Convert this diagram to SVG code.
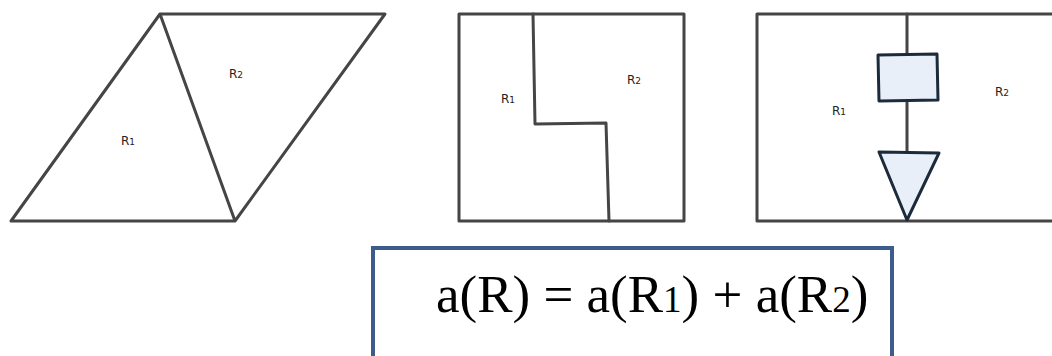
<svg xmlns="http://www.w3.org/2000/svg" width="1052" height="356" viewBox="0 0 1052 356">
<style>
.ln{fill:none;stroke:#454545;stroke-width:3;stroke-linejoin:round;stroke-linecap:round}
.sh{fill:#e8eff9;stroke:#1c2b3b;stroke-width:3;stroke-linejoin:round}
.lb{font-family:"DejaVu Sans","Liberation Sans",sans-serif;font-size:12px;fill:#222}
.sb{font-size:9px}
.eq{font-family:"Liberation Serif","Times New Roman",serif;font-size:53px;fill:#000}
.es{font-size:37px}
</style>
<rect width="1052" height="356" fill="#fff"/>
<g id="fig1">
<path class="ln" d="M160,14 L385,14 L235,221 L11,221 Z M160,14 L235,221"/>
<text class="lb" x="229" y="78">R<tspan class="sb">2</tspan></text>
<text class="lb" x="121" y="145">R<tspan class="sb">1</tspan></text>
</g>
<g id="fig2">
<rect class="ln" x="459" y="14" width="225" height="207"/>
<path class="ln" d="M533,14 L535,124 L606,123 L609,221"/>
<text class="lb" x="501" y="103">R<tspan class="sb">1</tspan></text>
<text class="lb" x="627" y="84">R<tspan class="sb">2</tspan></text>
</g>
<g id="fig3">
<path class="ln" d="M1060,14 L757,14 L757,221 L1060,221"/>
<path class="ln" d="M907,14 L907,54 M907,100 L907,152"/>
<path class="sh" d="M878,55 L937,54 L938,100 L879,101 Z"/>
<path class="sh" d="M879,152 L939,153 L907,220 Z"/>
<text class="lb" x="832" y="115">R<tspan class="sb">1</tspan></text>
<text class="lb" x="995" y="96">R<tspan class="sb">2</tspan></text>
</g>
<g id="formula">
<path d="M373,370 L373,248 L892,248 L892,370" fill="#fff" stroke="#3d5c8c" stroke-width="4"/>
<text class="eq" x="436" y="312">a(R) = a(R<tspan class="es">1</tspan>) + a(R<tspan class="es">2</tspan>)</text>
</g>
</svg>
